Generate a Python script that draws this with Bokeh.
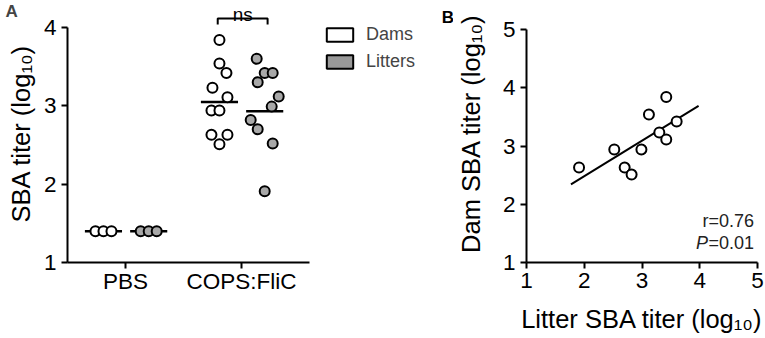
import numpy as np
from bokeh.plotting import figure
from bokeh.models import Range1d, Legend, LegendItem, Title, FixedTicker
from bokeh.layouts import row
from bokeh.embed import file_html
from bokeh.resources import INLINE
from bokeh.core.properties import value

# ---------------- data ----------------
groups = ["PBS", "COPS:FliC"]
group_ticks = [1, 3]
pbs_dams = [1.40, 1.40, 1.40]
pbs_litters = [1.40, 1.40, 1.40]
# paired values (litter, dam) for the COPS:FliC group
cops_litters = [1.91, 2.52, 2.70, 2.82, 2.99, 3.12, 3.30, 3.42, 3.42, 3.60]
cops_dams = [2.63, 2.94, 2.63, 2.51, 2.94, 3.54, 3.23, 3.11, 3.84, 3.42]
dam_means = [1.40, 3.05]
litter_means = [1.40, 2.93]
fit_x = [1.77, 3.98]
r_label = "r=0.76"
p_label = "=0.01"
sig_label = "ns"

# ---------------- layout / style ----------------
FONT = "Liberation Sans"
GRAY = "#a8a8a8"
PX_PER_UNIT = 58.0
A_PX_PER_Y = 78.3
dam_offset = -0.38
litter_offset = 0.40
pbs_jitter_px = [-8, 0, 8]
dam_jitter_px = [-8, -8, 8, 0, 0, 0, -7, 8, 0, 7]
litter_jitter_px = [0, 8, -7, -14, 7, 14, -7, 0, 8, -8]
mean_half = 0.32
bracket_x = [2.59, 3.45]
bracket_y = [4.04, 4.115]
TOP = 4          # frame top (px)
BOTTOM = 262     # frame bottom (px)
H = 338
WA = 453
WB = 765 - WA
NAN = float("nan")


def style_axes(p):
    for ax in (p.xaxis[0], p.yaxis[0]):
        ax.axis_line_width = 2
        ax.major_tick_line_width = 2
        ax.major_tick_in = 0
        ax.major_tick_out = 6
        ax.minor_tick_line_color = None
        ax.major_label_text_font = FONT
        ax.major_label_text_font_size = "22.5px"
        ax.major_label_text_color = "black"
        ax.axis_label_text_font = FONT
        ax.axis_label_text_font_size = "25.5px"
        ax.axis_label_text_font_style = "normal"
        ax.axis_label_text_color = "black"
    p.xgrid.visible = False
    p.ygrid.visible = False
    p.outline_line_color = None


# ---------------- Panel A ----------------
a_ymax = 4 + (27 - TOP) / A_PX_PER_Y
a_xmax = (WA - 67) / PX_PER_UNIT
pa = figure(width=WA, height=H, output_backend="svg", toolbar_location=None,
            x_range=Range1d(0, a_xmax), y_range=Range1d(1, a_ymax),
            min_border_left=67, min_border_right=0, min_border_top=TOP,
            min_border_bottom=H - BOTTOM)
style_axes(pa)
pa.xaxis.ticker = FixedTicker(ticks=group_ticks)
pa.xaxis.major_label_overrides = {t: g for t, g in zip(group_ticks, groups)}
pa.xaxis.bounds = (0, 4.17)
pa.xaxis.major_label_standoff = 0
pa.yaxis.ticker = FixedTicker(ticks=[1, 2, 3, 4])
pa.yaxis.bounds = (1, 4)
pa.yaxis.axis_label = "SBA titer (log₁₀)"
pa.yaxis.axis_label_standoff = 6
pa.add_layout(Title(text="A", align="left", offset=-62, standoff=-33,
                    text_font=FONT, text_font_style="bold", text_font_size="17px"),
              "above")

dam_x = [
    [group_ticks[0] + dam_offset + j / PX_PER_UNIT for j in pbs_jitter_px],
    [group_ticks[1] + dam_offset + j / PX_PER_UNIT for j in dam_jitter_px],
]
lit_x = [
    [group_ticks[0] + litter_offset + j / PX_PER_UNIT for j in pbs_jitter_px],
    [group_ticks[1] + litter_offset + j / PX_PER_UNIT for j in litter_jitter_px],
]
dams_all_x = dam_x[0] + dam_x[1]
dams_all_y = pbs_dams + cops_dams
lits_all_x = lit_x[0] + lit_x[1]
lits_all_y = pbs_litters + cops_litters

# mean lines
for i, g in enumerate(group_ticks):
    cd = g + dam_offset
    cl = g + litter_offset
    pa.segment(x0=[cd - mean_half], y0=[dam_means[i]], x1=[cd + mean_half], y1=[dam_means[i]],
               line_color="black", line_width=2.5)
    pa.segment(x0=[cl - mean_half], y0=[litter_means[i]], x1=[cl + mean_half], y1=[litter_means[i]],
               line_color="black", line_width=2.5)

pa.scatter(dams_all_x, dams_all_y, marker="circle", size=10, fill_color="white",
           line_color="black", line_width=2)
pa.scatter(lits_all_x, lits_all_y, marker="circle", size=10, fill_color=GRAY,
           line_color="black", line_width=2)

# significance bracket
pa.line([bracket_x[0], bracket_x[0], bracket_x[1], bracket_x[1]],
        [bracket_y[0], bracket_y[1], bracket_y[1], bracket_y[0]],
        line_color="black", line_width=2)
pa.text(x=[(bracket_x[0] + bracket_x[1]) / 2], y=[4.17], text=[sig_label],
        text_align="center", text_baseline="alphabetic", text_font=value(FONT),
        text_font_size="19px", text_color="black")

# panel letter B (drawn in the free right part of panel A's frame)
pa.text(x=[(447.5 - 67) / PX_PER_UNIT], y=[4 + (27 - 17) / A_PX_PER_Y], text=["B"],
        text_align="center", text_baseline="alphabetic", text_font=value(FONT),
        text_font_style="bold", text_font_size="17px", text_color="black")

# legend
r_dams = pa.quad(left=[NAN], right=[NAN], top=[NAN], bottom=[NAN], fill_color="white",
                 line_color="black", line_width=2)
r_lits = pa.quad(left=[NAN], right=[NAN], top=[NAN], bottom=[NAN], fill_color="#999999",
                 line_color="black", line_width=2)
leg = Legend(items=[LegendItem(label="Dams", renderers=[r_dams]),
                    LegendItem(label="Litters", renderers=[r_lits])],
             location=(256, BOTTOM - 72), glyph_width=33, glyph_height=17, label_height=17,
             spacing=6, label_standoff=10, padding=0, margin=0,
             border_line_color=None, background_fill_alpha=0,
             label_text_font=FONT, label_text_font_size="18px")
pa.add_layout(leg, "center")

# ---------------- Panel B ----------------
b_ymax = 5 + (29 - TOP) / 58.2
pb = figure(width=WB, height=H, output_backend="svg", toolbar_location=None,
            x_range=Range1d(1, 5), y_range=Range1d(1, b_ymax),
            min_border_left=523 - WA, min_border_right=8, min_border_top=TOP,
            min_border_bottom=H - BOTTOM)
style_axes(pb)
pb.xaxis.ticker = FixedTicker(ticks=[1, 2, 3, 4, 5])
pb.yaxis.ticker = FixedTicker(ticks=[1, 2, 3, 4, 5])
pb.yaxis.bounds = (1, 5)
pb.xaxis.major_label_standoff = 4
pb.xaxis.axis_label = "Litter SBA titer (log₁₀)"
pb.xaxis.axis_label_standoff = 14
pb.yaxis.axis_label = "Dam SBA titer (log₁₀)"
pb.yaxis.axis_label_standoff = 15

slope, intercept = np.polyfit(cops_litters, cops_dams, 1)
fit_y = [slope * x + intercept for x in fit_x]
pb.line(fit_x, fit_y, line_color="black", line_width=2)
pb.scatter(cops_litters, cops_dams, marker="circle", size=10, fill_color="white",
           line_color="black", line_width=2)

pb.text(x=[4.94], y=[1.72], text=[r_label], text_align="right", text_baseline="middle",
        text_font=value(FONT), text_font_size="18px", text_color="#222222")
pb.text(x=[4.94], y=[1.33], text=[p_label], text_align="right", text_baseline="middle",
        text_font=value(FONT), text_font_size="18px", text_color="#222222")
pb.text(x=[4.94], y=[1.33], text=["P"], x_offset=-46, text_align="right", text_baseline="middle",
        text_font=value(FONT), text_font_size="18px", text_font_style="italic", text_color="#222222")

layout = row(pa, pb, spacing=0)
open("out.html", "w").write(file_html(layout, INLINE))
